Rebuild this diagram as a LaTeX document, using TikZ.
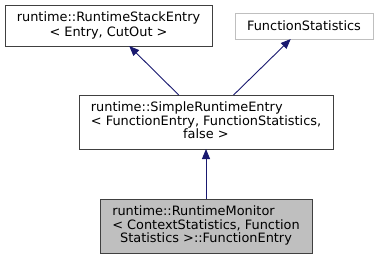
\documentclass[tikz,border=0pt]{standalone}
\usepackage{fontspec}
\setmainfont{DejaVu Sans}
\usetikzlibrary{arrows.meta}
\definecolor{edgeblue}{HTML}{191970}
\definecolor{boxgray}{HTML}{BFBFBF}
\definecolor{frame}{HTML}{404040}
\begin{document}
\begin{tikzpicture}[x=1pt,y=-1pt,
  cls/.style={draw=frame,line width=1pt,fill=white,inner sep=0pt,outer sep=0pt,
    font=\fontsize{12.9}{14.5}\selectfont,align=center},
  ext/.style={cls,draw=boxgray},
  cur/.style={cls,fill=boxgray},
  inherit/.style={draw=edgeblue,line width=0.9pt,
    -{Triangle[length=10pt,width=8pt,fill=edgeblue]}}]
\useasboundingbox (0,0) rectangle (379,260);
\node[cls,minimum width=207pt,minimum height=41pt] (stack) at (108.5,25.5)
  {runtime::RuntimeStackEntry\\\textless{} Entry, CutOut \textgreater};
\node[ext,minimum width=138pt,minimum height=26pt] (stats) at (304,26)
  {FunctionStatistics};
\node[cls,minimum width=254pt,minimum height=54pt] (simple) at (206,122)
  {\renewcommand\arraystretch{0.8}\begin{tabular}{@{}l@{}}runtime::SimpleRuntimeEntry\\
   \textless{} FunctionEntry, FunctionStatistics,\\
   \multicolumn{1}{@{}c@{}}{false \textgreater}\end{tabular}};
\node[cur,minimum width=212pt,minimum height=54pt] (entry) at (206,226)
  {\renewcommand\arraystretch{0.8}\begin{tabular}{@{}l@{}}runtime::RuntimeMonitor\\
   \textless{} ContextStatistics, Function\\
   \multicolumn{1}{@{}c@{}}{Statistics \textgreater::FunctionEntry}\end{tabular}};
\draw[inherit] (simple) -- (stack);
\draw[inherit] (simple) -- (stats);
\draw[inherit] (entry) -- (simple);
\end{tikzpicture}
\end{document}
